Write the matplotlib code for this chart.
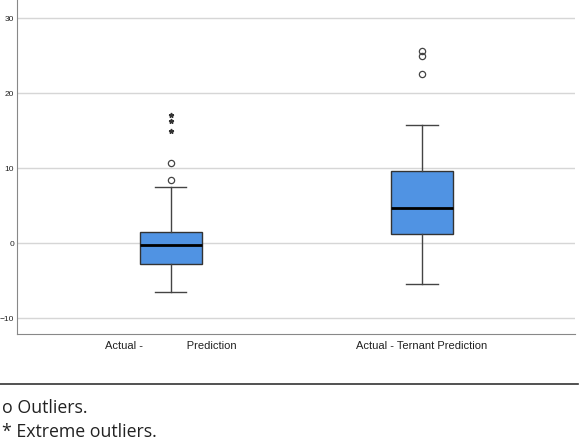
import matplotlib
matplotlib.use('Agg')
import matplotlib.pyplot as plt

# values
labels = ['Actual -' + ' ' * 14 + 'Prediction', 'Actual - Ternant Prediction']
medians = [-0.27, 4.7]
q1 = [-2.76, 1.24]
q3 = [1.5, 9.6]
whis_lo = [-6.5, -5.47]
whis_hi = [7.5, 15.7]
outliers = [[8.4, 10.67], [22.6, 25.0, 25.6]]
extremes = [[14.9, 16.3, 17.1], []]
y_ticks = [-10, 0, 10, 20, 30]

box_color = '#5093e3'

fig = plt.figure(figsize=(5.8, 4.43), dpi=100)
ax = fig.add_axes([17/580, 1 - 334/443, (575 - 17)/580, 334/443])

stats = []
for i in range(len(labels)):
    stats.append({'med': medians[i], 'q1': q1[i], 'q3': q3[i],
                  'whislo': whis_lo[i], 'whishi': whis_hi[i],
                  'fliers': outliers[i], 'label': labels[i]})

ax.bxp(stats, positions=[1, 2], widths=0.247, patch_artist=True,
       boxprops=dict(facecolor=box_color, edgecolor='#333333', linewidth=1.0),
       medianprops=dict(color='black', linewidth=2.0),
       whiskerprops=dict(color='#444444', linewidth=1.0),
       capprops=dict(color='#444444', linewidth=1.0),
       capwidths=0.124,
       flierprops=dict(marker='o', markersize=4.5, markerfacecolor='none',
                       markeredgecolor='#444444', markeredgewidth=0.9),
       zorder=3)

for i, ext in enumerate(extremes):
    if ext:
        ax.plot([i + 1] * len(ext), ext, linestyle='none', marker='*',
                markersize=3.5, color='#333333', zorder=4)

ax.set_xlim(0.388, 2.609)
ax.set_ylim(-12.1, 32.4)
ax.set_yticks(y_ticks)
ax.yaxis.grid(True, color='#d6d6d6', linewidth=1.0)
ax.set_axisbelow(True)
for s in ['top', 'right']:
    ax.spines[s].set_visible(False)
ax.spines['left'].set_color('#888888')
ax.spines['bottom'].set_color('#888888')
ax.tick_params(axis='both', length=0, labelsize=6, colors='#222222')
ax.tick_params(axis='y', pad=2)
ax.tick_params(axis='x', labelsize=8, pad=5)
for t in ax.get_yticklabels():
    t.set_fontfamily('Liberation Sans')
for t in ax.get_xticklabels():
    t.set_fontfamily('Liberation Sans')

# separator line and footnotes
fig.add_artist(plt.Line2D([0, 578/580], [1 - 384/443, 1 - 384/443],
                          color='#333333', linewidth=1.2))
fig.text(2/580, 1 - 408/443, 'o Outliers.', fontsize=12.8, family='Open Sans',
         color='#222222', va='center')
fig.text(2/580, 1 - 432/443, '* Extreme outliers.', fontsize=12.8, family='Open Sans',
         color='#222222', va='center')

fig.savefig('out.png', dpi=100, facecolor='white')
